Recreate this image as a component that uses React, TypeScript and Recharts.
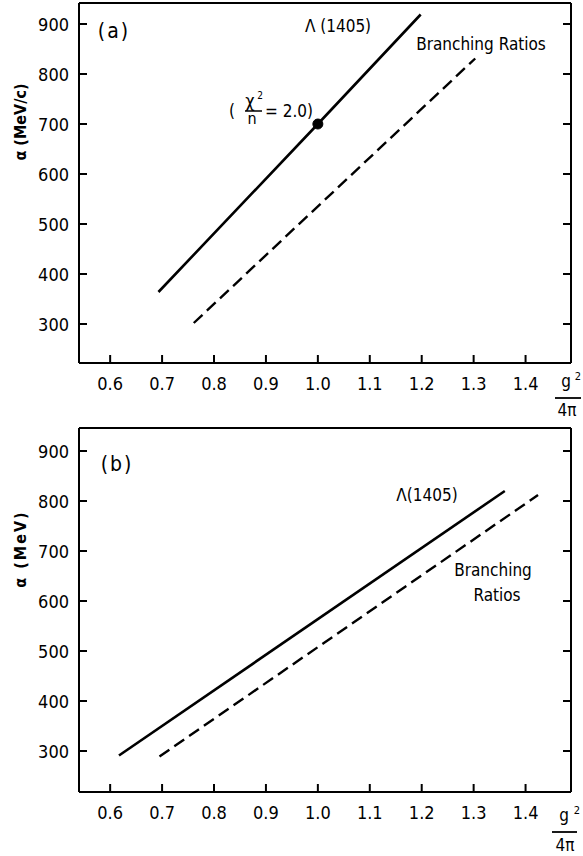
import React from 'react';
import { LineChart, Line, XAxis, YAxis, ReferenceDot, ReferenceLine } from 'recharts';

// ---- data ----
const xTicks = [0.6, 0.7, 0.8, 0.9, 1.0, 1.1, 1.2, 1.3, 1.4];
const yTicks = [300, 400, 500, 600, 700, 800, 900];

// panel (a): alpha (MeV/c) vs g^2/4pi
const aLambda = [
  { g: 0.693, a: 364 },
  { g: 1.0, a: 700 },
  { g: 1.198, a: 919 },
];
const aBranching = [
  { g: 0.761, a: 302 },
  { g: 1.303, a: 831 },
];
const aFitPoint = { g: 1.0, a: 700 };

// panel (b): alpha (MeV) vs g^2/4pi
const bLambda = [
  { g: 0.617, a: 291 },
  { g: 1.36, a: 820 },
];
const bBranching = [
  { g: 0.695, a: 289 },
  { g: 1.424, a: 812 },
];

const xDomain: [number, number] = [0.54, 1.4875];
const aYDomain: [number, number] = [222, 942];
const bYDomain: [number, number] = [218, 946];

const FONT = '"DejaVu Sans Condensed", "DejaVu Sans", sans-serif';

const XTick = (props: any) => {
  const { x, y, payload } = props;
  return (
    <g>
      <line x1={x} y1={y} x2={x} y2={y - 8} stroke="#000" strokeWidth={2} />
      <text x={x} y={y + 27} textAnchor="middle" fontFamily={FONT} fontSize={18} fill="#000">
        {Number(payload.value).toFixed(1)}
      </text>
    </g>
  );
};

const LeftTick = (props: any) => {
  const { x, y, payload } = props;
  return (
    <g>
      <line x1={x} y1={y} x2={x + 8} y2={y} stroke="#000" strokeWidth={2} />
      <text x={x - 10} y={y + 7} textAnchor="end" fontFamily={FONT} fontSize={18} fill="#000">
        {payload.value}
      </text>
    </g>
  );
};

const RightTick = (props: any) => {
  const { x, y } = props;
  return <line x1={x} y1={y} x2={x - 8} y2={y} stroke="#000" strokeWidth={2} />;
};

const axisLine = { stroke: '#000', strokeWidth: 2 };

function Panel({
  lambda,
  branching,
  yDomain,
  height,
  xAxisHeight,
  fit,
}: {
  lambda: { g: number; a: number }[];
  branching: { g: number; a: number }[];
  yDomain: [number, number];
  height: number;
  xAxisHeight: number;
  fit?: { g: number; a: number };
}) {
  return (
    <LineChart width={583} height={height} margin={{ top: 3, right: 0, bottom: 0, left: 0 }}>
      <XAxis
        type="number"
        dataKey="g"
        domain={xDomain}
        ticks={xTicks}
        interval={0}
        allowDataOverflow
        height={xAxisHeight}
        tickSize={0}
        tickMargin={0}
        tickLine={false}
        axisLine={axisLine}
        tick={<XTick />}
      />
      <YAxis
        type="number"
        domain={yDomain}
        ticks={yTicks}
        interval={0}
        allowDataOverflow
        width={79}
        tickSize={0}
        tickMargin={0}
        tickLine={false}
        axisLine={axisLine}
        tick={<LeftTick />}
      />
      <YAxis
        yAxisId="right"
        orientation="right"
        type="number"
        domain={yDomain}
        ticks={yTicks}
        interval={0}
        allowDataOverflow
        width={12}
        tickSize={0}
        tickMargin={0}
        tickLine={false}
        axisLine={axisLine}
        tick={<RightTick />}
      />
      <ReferenceLine y={yDomain[1]} stroke="#000" strokeWidth={2} />
      <Line
        type="linear"
        data={lambda}
        dataKey="a"
        stroke="#000"
        strokeWidth={2.6}
        dot={false}
        isAnimationActive={false}
      />
      <Line
        type="linear"
        data={branching}
        dataKey="a"
        stroke="#000"
        strokeWidth={2.4}
        strokeDasharray="12 6"
        dot={false}
        isAnimationActive={false}
      />
      {fit && <ReferenceDot x={fit.g} y={fit.a} r={5} fill="#000" stroke="#000" />}
    </LineChart>
  );
}

const T = (p: any) => (
  <text fontFamily={FONT} fill="#000" {...p}>
    {p.children}
  </text>
);

export default function App() {
  return (
    <div style={{ position: 'absolute', left: 0, top: 0, width: 583, height: 856, background: '#fff' }}>
      <div style={{ position: 'absolute', left: 0, top: 0 }}>
        <Panel lambda={aLambda} branching={aBranching} yDomain={aYDomain} height={430} xAxisHeight={67} fit={aFitPoint} />
      </div>
      <div style={{ position: 'absolute', left: 0, top: 425 }}>
        <Panel lambda={bLambda} branching={bBranching} yDomain={bYDomain} height={431} xAxisHeight={64} />
      </div>
      <svg width={583} height={856} style={{ position: 'absolute', left: 0, top: 0, pointerEvents: 'none' }}>
        {/* panel (a) texts */}
        <T x={26} y={122} fontSize={16} fontWeight="bold" textAnchor="middle" transform="rotate(-90 26 122)">
          α (MeV/c)
        </T>
        <T x={114} y={38} fontSize={21} textAnchor="middle" letterSpacing={2}>(a)</T>
        <T x={338} y={32} fontSize={17} textAnchor="middle">Λ (1405)</T>
        <T x={481} y={50} fontSize={17} textAnchor="middle">Branching Ratios</T>
        <T fontSize={17} textAnchor="middle">
          <tspan x={232} y={117}>(</tspan>
          <tspan x={250} y={107} fontSize={18}>χ</tspan>
          <tspan x={260} y={99} fontSize={10}>2</tspan>
          <tspan x={252} y={124} fontSize={16}>n</tspan>
        </T>
        <line x1={245} y1={111} x2={262} y2={111} stroke="#000" strokeWidth={1.5} />
        <T x={265} y={117} fontSize={17} textAnchor="start">= 2.0)</T>
        <T fontSize={17} textAnchor="middle">
          <tspan x={566} y={387}>g</tspan>
          <tspan x={578} y={380} fontSize={11}>2</tspan>
          <tspan x={567} y={416}>4π</tspan>
        </T>
        <line x1={555} y1={398} x2={581} y2={398} stroke="#000" strokeWidth={1.8} />

        {/* panel (b) texts */}
        <T x={26} y={549} fontSize={16} fontWeight="bold" textAnchor="middle" letterSpacing={2} transform="rotate(-90 26 549)">
          α (MeV)
        </T>
        <T x={117} y={471} fontSize={21} textAnchor="middle" letterSpacing={2}>(b)</T>
        <T x={427} y={501} fontSize={17} textAnchor="middle">Λ(1405)</T>
        <T x={493} y={576} fontSize={17} textAnchor="middle">Branching</T>
        <T x={497} y={601} fontSize={17} textAnchor="middle">Ratios</T>
        <T fontSize={17} textAnchor="middle">
          <tspan x={564} y={821}>g</tspan>
          <tspan x={577} y={814} fontSize={11}>2</tspan>
          <tspan x={565} y={851}>4π</tspan>
        </T>
        <line x1={552} y1={832} x2={577} y2={832} stroke="#000" strokeWidth={1.8} />
      </svg>
    </div>
  );
}
